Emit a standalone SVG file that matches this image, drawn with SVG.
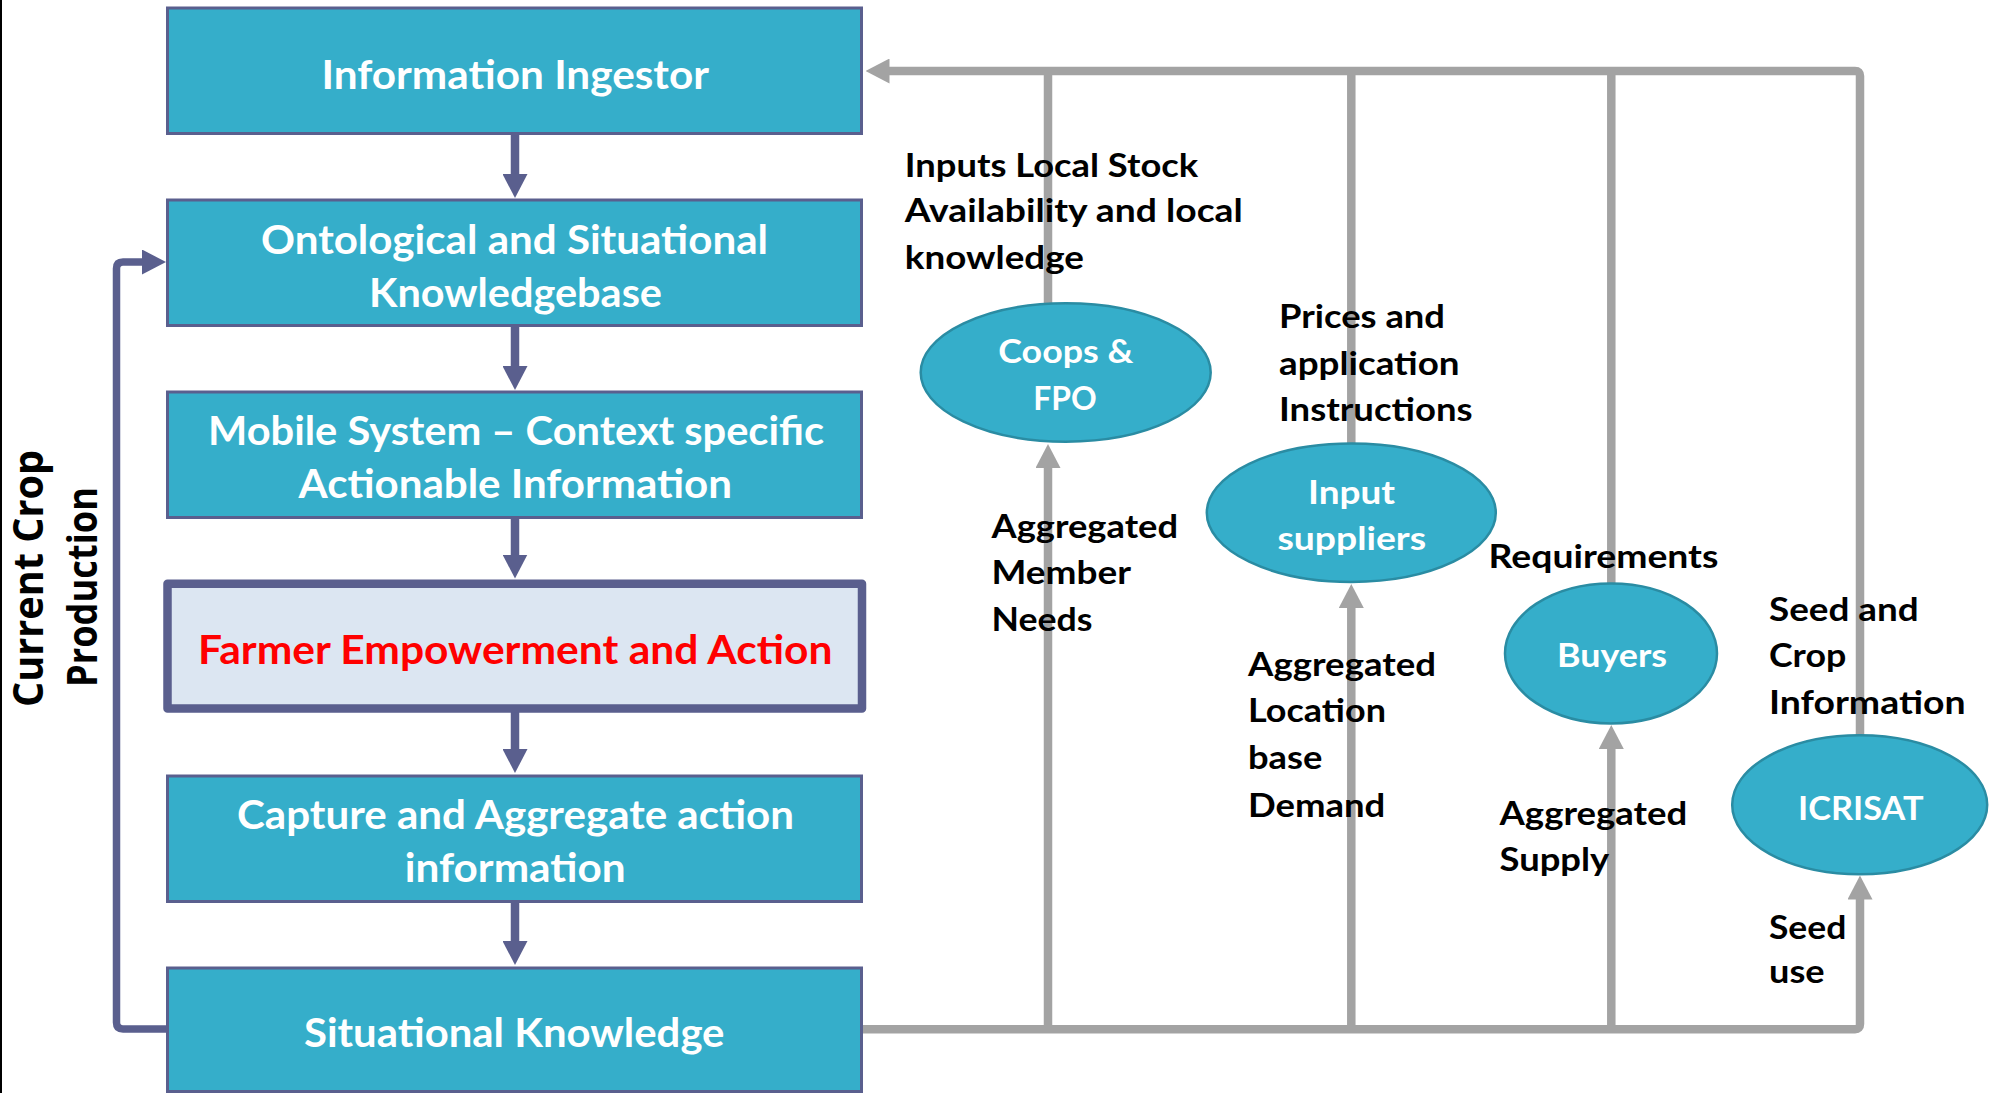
<svg xmlns="http://www.w3.org/2000/svg" width="1993" height="1093" viewBox="0 0 1993 1093">
  <style>
    .box { fill: #35AECA; stroke: #5A5F8E; stroke-width: 3; }
    .focus { fill: #DCE6F2; stroke: #5A5F8E; stroke-width: 8.5; stroke-linejoin: round; }
    .oval { fill: #35AECA; stroke: #2A8CA3; stroke-width: 2.5; }
    .flow { fill: none; stroke: #5A5F8E; stroke-width: 8.5; }
    .loop { fill: none; stroke: #5A5F8E; stroke-width: 7.5; }
    .feed { fill: none; stroke: #A3A3A3; stroke-width: 8.5; }
    .big { font-family: Lato, "Open Sans", sans-serif; font-weight: 700; font-size: 40.5px; fill: #FFFFFF; }
    .mid { font-family: Lato, "Open Sans", sans-serif; font-weight: 700; font-size: 32.5px; fill: #FFFFFF; }
    .lbl { font-family: Lato, "Open Sans", sans-serif; font-weight: 700; font-size: 32.5px; fill: #000000; }
    .side { font-family: "Open Sans", "DejaVu Sans", sans-serif; font-weight: 700; font-size: 42px; fill: #000000; }
  </style>
  <defs>
    <marker id="headFlow" markerUnits="userSpaceOnUse" viewBox="0 0 24 25" markerWidth="24" markerHeight="25" refX="1" refY="12.5" orient="auto">
      <path d="M0,0 L24,12.5 L0,25 Z" fill="#5A5F8E"/>
    </marker>
    <marker id="headFeed" markerUnits="userSpaceOnUse" viewBox="0 0 24 25" markerWidth="24" markerHeight="25" refX="1" refY="12.5" orient="auto">
      <path d="M0,0 L24,12.5 L0,25 Z" fill="#A3A3A3"/>
    </marker>
  </defs>

  <rect width="1993" height="1093" fill="#FFFFFF"/>
  <line x1="1" y1="0" x2="1" y2="1093" stroke="#000000" stroke-width="2"/>

  <!-- connectors -->
  <g id="connectors">
    <!-- pipeline arrows between stages -->
    <line class="flow" x1="515" y1="134" x2="515" y2="175" marker-end="url(#headFlow)"/>
    <line class="flow" x1="515" y1="326" x2="515" y2="367" marker-end="url(#headFlow)"/>
    <line class="flow" x1="515" y1="518" x2="515" y2="555.5" marker-end="url(#headFlow)"/>
    <line class="flow" x1="515" y1="712" x2="515" y2="750" marker-end="url(#headFlow)"/>
    <line class="flow" x1="515" y1="902" x2="515" y2="942" marker-end="url(#headFlow)"/>
    <!-- current crop production loop -->
    <path class="loop" d="M167.5,1029 L123,1029 Q116.5,1029 116.5,1022.5 L116.5,268.5 Q116.5,262 123,262 L143,262" marker-end="url(#headFlow)"/>
    <!-- stakeholder feedback bus into the ingestor -->
    <path class="feed" d="M1860,735 L1860,76 Q1860,71 1855,71 L888.5,71" marker-end="url(#headFeed)"/>
    <line class="feed" x1="1048" y1="71" x2="1048" y2="304"/>
    <line class="feed" x1="1351.3" y1="71" x2="1351.3" y2="444"/>
    <line class="feed" x1="1611.3" y1="71" x2="1611.3" y2="584"/>
    <!-- situational knowledge bus out to stakeholders -->
    <path class="feed" d="M863,1029.2 L1855,1029.2 Q1860,1029.2 1860,1024 L1860,898.5" marker-end="url(#headFeed)"/>
    <line class="feed" x1="1048" y1="1029" x2="1048" y2="467" marker-end="url(#headFeed)"/>
    <line class="feed" x1="1351.3" y1="1029" x2="1351.3" y2="607" marker-end="url(#headFeed)"/>
    <line class="feed" x1="1611.3" y1="1029" x2="1611.3" y2="748" marker-end="url(#headFeed)"/>
  </g>

  <!-- pipeline stages -->
  <g id="information-ingestor">
    <rect class="box" x="167.5" y="8" width="694" height="125.5"/>
    <text class="big" x="321.5" y="89.3" textLength="387.5" lengthAdjust="spacingAndGlyphs">Information Ingestor</text>
  </g>
  <g id="knowledgebase">
    <rect class="box" x="167.5" y="200" width="694" height="125.5"/>
    <text class="big" x="261" y="254.3" textLength="507" lengthAdjust="spacingAndGlyphs">Ontological and Situational</text>
    <text class="big" x="369" y="307" textLength="293" lengthAdjust="spacingAndGlyphs">Knowledgebase</text>
  </g>
  <g id="mobile-system">
    <rect class="box" x="167.5" y="392" width="694" height="125.5"/>
    <text class="big" x="208" y="444.6" textLength="616" lengthAdjust="spacingAndGlyphs">Mobile System – Context specific</text>
    <text class="big" x="298.5" y="498" textLength="433.5" lengthAdjust="spacingAndGlyphs">Actionable Information</text>
  </g>
  <g id="farmer-empowerment">
    <rect class="focus" x="167.5" y="583.8" width="694.5" height="124.8"/>
    <text class="big" x="198" y="663.5" textLength="634.5" lengthAdjust="spacingAndGlyphs" style="fill:#FF0000">Farmer Empowerment and Action</text>
  </g>
  <g id="capture-aggregate">
    <rect class="box" x="167.5" y="776" width="694" height="125.5"/>
    <text class="big" x="237" y="829.2" textLength="557" lengthAdjust="spacingAndGlyphs">Capture and Aggregate action</text>
    <text class="big" x="404.7" y="882" textLength="221" lengthAdjust="spacingAndGlyphs">information</text>
  </g>
  <g id="situational-knowledge">
    <rect class="box" x="167.5" y="968" width="694" height="123.5"/>
    <text class="big" x="304" y="1047" textLength="420.5" lengthAdjust="spacingAndGlyphs">Situational Knowledge</text>
  </g>

  <!-- stakeholders -->
  <g id="coops-fpo">
    <ellipse class="oval" cx="1065.7" cy="372.5" rx="145" ry="69.2"/>
    <text class="mid" x="998.3" y="363.3" textLength="135" lengthAdjust="spacingAndGlyphs">Coops &amp;</text>
    <text class="mid" x="1033.3" y="410" textLength="63.4" lengthAdjust="spacingAndGlyphs">FPO</text>
  </g>
  <g id="input-suppliers">
    <ellipse class="oval" cx="1351.3" cy="512.8" rx="144.5" ry="69.2"/>
    <text class="mid" x="1308" y="503.6" textLength="87" lengthAdjust="spacingAndGlyphs">Input</text>
    <text class="mid" x="1277.4" y="550.3" textLength="148.7" lengthAdjust="spacingAndGlyphs">suppliers</text>
  </g>
  <g id="buyers">
    <ellipse class="oval" cx="1611" cy="653.4" rx="106" ry="70"/>
    <text class="mid" x="1557" y="667" textLength="110" lengthAdjust="spacingAndGlyphs">Buyers</text>
  </g>
  <g id="icrisat">
    <ellipse class="oval" cx="1859.7" cy="804.7" rx="127.5" ry="69.5"/>
    <text class="mid" x="1798" y="820.4" textLength="125.6" lengthAdjust="spacingAndGlyphs">ICRISAT</text>
  </g>

  <!-- flow labels -->
  <g id="labels">
    <text class="lbl" x="904.8" y="176.8" textLength="293.4" lengthAdjust="spacingAndGlyphs">Inputs Local Stock</text>
    <text class="lbl" x="904.8" y="222" textLength="338" lengthAdjust="spacingAndGlyphs">Availability and local</text>
    <text class="lbl" x="904.8" y="268.6" textLength="179.2" lengthAdjust="spacingAndGlyphs">knowledge</text>

    <text class="lbl" x="1279" y="328" textLength="166" lengthAdjust="spacingAndGlyphs">Prices and</text>
    <text class="lbl" x="1279" y="374.7" textLength="180.6" lengthAdjust="spacingAndGlyphs">application</text>
    <text class="lbl" x="1279" y="421.4" textLength="193.6" lengthAdjust="spacingAndGlyphs">Instructions</text>

    <text class="lbl" x="991.5" y="537.5" textLength="186.5" lengthAdjust="spacingAndGlyphs">Aggregated</text>
    <text class="lbl" x="991.5" y="584.3" textLength="139.5" lengthAdjust="spacingAndGlyphs">Member</text>
    <text class="lbl" x="991.5" y="631.1" textLength="101" lengthAdjust="spacingAndGlyphs">Needs</text>

    <text class="lbl" x="1488.6" y="568.2" textLength="229.8" lengthAdjust="spacingAndGlyphs">Requirements</text>

    <text class="lbl" x="1248" y="675.8" textLength="188" lengthAdjust="spacingAndGlyphs">Aggregated</text>
    <text class="lbl" x="1248" y="721.5" textLength="138" lengthAdjust="spacingAndGlyphs">Location</text>
    <text class="lbl" x="1248" y="768.6" textLength="74.4" lengthAdjust="spacingAndGlyphs">base</text>
    <text class="lbl" x="1248" y="816.9" textLength="137.3" lengthAdjust="spacingAndGlyphs">Demand</text>

    <text class="lbl" x="1499.5" y="825" textLength="187.8" lengthAdjust="spacingAndGlyphs">Aggregated</text>
    <text class="lbl" x="1499.5" y="870.9" textLength="109.8" lengthAdjust="spacingAndGlyphs">Supply</text>

    <text class="lbl" x="1769" y="621" textLength="149.6" lengthAdjust="spacingAndGlyphs">Seed and</text>
    <text class="lbl" x="1769" y="667" textLength="77.3" lengthAdjust="spacingAndGlyphs">Crop</text>
    <text class="lbl" x="1769" y="713.5" textLength="196.5" lengthAdjust="spacingAndGlyphs">Information</text>

    <text class="lbl" x="1769" y="938.6" textLength="77.3" lengthAdjust="spacingAndGlyphs">Seed</text>
    <text class="lbl" x="1769" y="982.7" textLength="55.6" lengthAdjust="spacingAndGlyphs">use</text>

    <text class="side" transform="translate(43,578.5) rotate(-90)" x="0" y="0" text-anchor="middle" textLength="257" lengthAdjust="spacingAndGlyphs">Current Crop</text>
    <text class="side" transform="translate(97,587) rotate(-90)" x="0" y="0" text-anchor="middle" textLength="200" lengthAdjust="spacingAndGlyphs">Production</text>
  </g>
</svg>
